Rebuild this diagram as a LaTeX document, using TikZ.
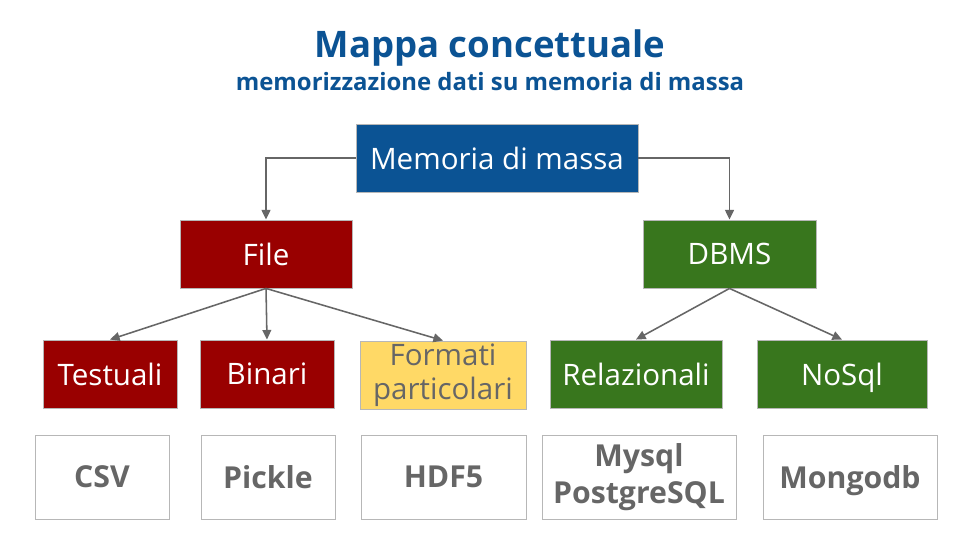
\documentclass[tikz,border=0pt]{standalone}
\usepackage{fontspec}
\setmainfont{Open Sans}
\usetikzlibrary{arrows.meta,positioning}
\definecolor{cBlue}{HTML}{0B5394}
\definecolor{cRed}{HTML}{990000}
\definecolor{cGreen}{HTML}{38761D}
\definecolor{cYellow}{HTML}{FFD966}
\definecolor{cGrey}{HTML}{666666}
\definecolor{cEdge}{HTML}{B7B7B7}

\begin{document}
\begin{tikzpicture}[x=0.025cm,y=-0.025cm,>={Triangle[length=2.4mm,width=2.2mm]},
    every node/.style={font=\fontsize{21}{24.5}\selectfont},
    box/.style={draw=cEdge,line width=0.6pt,inner sep=0pt,align=center,text=white,minimum height=1.7cm},
    leaf/.style={draw=cEdge,line width=0.6pt,inner sep=0pt,align=center,fill=white,text=cGrey,
                 font=\fontsize{21.5}{26}\selectfont\bfseries,minimum height=2.1cm},
    arr/.style={->,cGrey,line width=1.1pt}]
  \useasboundingbox[fill=white] (0,0) rectangle (960,540);
  % ---- title ----
  \node[anchor=base,text=cBlue,font=\fontsize{26}{30}\selectfont\bfseries] (title) at (490,57)
       {Mappa concettuale};
  \node[anchor=base,text=cBlue,font=\fontsize{17}{20}\selectfont\bfseries] (sub) at (490,90)
       {memorizzazione dati su memoria di massa};
  % ---- root ----
  \node[box,fill=cBlue,minimum width=7.05cm] (mem) at (497,158) {Memoria di massa};
  % ---- second level ----
  \node[box,fill=cRed,minimum width=4.3cm] (file) at (266,254) {File};
  \node[box,fill=cGreen,minimum width=4.325cm] (dbms) at (729.5,254) {DBMS};
  % ---- third level ----
  \node[box,fill=cRed,minimum width=3.35cm] (test) at (110,374) {Testuali};
  \node[box,fill=cRed,minimum width=3.35cm] (bin) at (267,374) {Binari};
  \node[box,fill=cYellow,text=cGrey,minimum width=4.15cm] (fmt) at (443,375) {Formati\\particolari};
  \node[box,fill=cGreen,minimum width=4.3cm] (rel) at (636,374) {Relazionali};
  \node[box,fill=cGreen,minimum width=4.25cm,text depth=0pt] (nosql) at (842,374) {NoSql};
  % ---- examples ----
  \node[leaf,minimum width=3.35cm] (csv) at (102,477) {CSV};
  \node[leaf,minimum width=3.35cm] (pkl) at (268,477) {Pickle};
  \node[leaf,minimum width=4.125cm] (hdf) at (443.5,477) {HDF5};
  \node[leaf,minimum width=4.85cm] (sql) at (639,477) {Mysql\\PostgreSQL};
  \node[leaf,minimum width=4.35cm,text depth=0pt] (mongo) at (850,477) {Mongodb};
  % ---- connectors ----
  \draw[arr] (mem.west) -| (file.north);
  \draw[arr] (mem.east) -| (dbms.north);
  \draw[arr] (file.south) -- (test.north); \draw[arr] (file.south) -- (bin.north);
  \draw[arr] (file.south) -- (fmt.north);
  \draw[arr] (dbms.south) -- (rel.north); \draw[arr] (dbms.south) -- (nosql.north);
\end{tikzpicture}
\end{document}
